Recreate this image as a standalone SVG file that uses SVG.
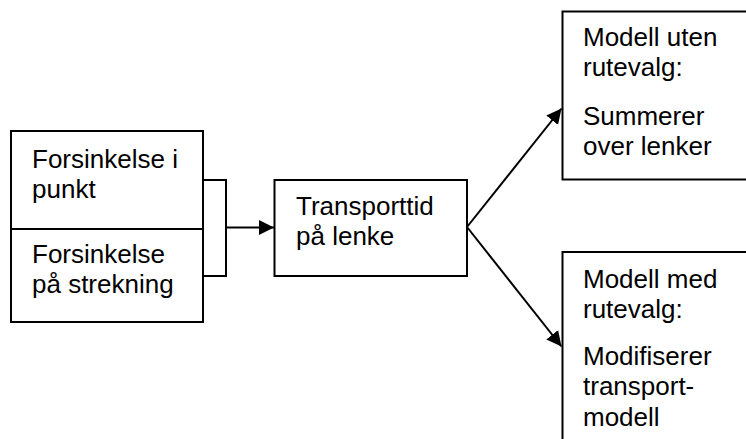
<svg xmlns="http://www.w3.org/2000/svg" width="746" height="439" viewBox="0 0 746 439">
<style>
.box{fill:#fff;stroke:#000;stroke-width:2}
.t{font-family:"Liberation Sans",Arial,sans-serif;font-size:26px;fill:#000}
.c{fill:none;stroke:#000;stroke-width:2}
</style>
<defs>
<marker id="ah" markerUnits="userSpaceOnUse" markerWidth="16" markerHeight="16" viewBox="0 0 16 16" refX="15" refY="8" orient="auto">
<path d="M0,0.5 L15,8 L0,15.5 Z" fill="#000"/>
</marker>
</defs>
<rect width="746" height="439" fill="#fff"/>
<g id="connectors">
<path class="c" d="M203,180 H226 V276 H203"/>
<path class="c" d="M226,227.5 H274" marker-end="url(#ah)"/>
<path class="c" d="M467,227 L561.5,108.5" marker-end="url(#ah)"/>
<path class="c" d="M467,227 L561.5,346.5" marker-end="url(#ah)"/>
</g>
<g id="node-punkt">
<rect class="box" x="11" y="131" width="192" height="98"/>
<text class="t" x="32" y="168">Forsinkelse i</text>
<text class="t" x="32" y="197.5">punkt</text>
</g>
<g id="node-strekning">
<rect class="box" x="11" y="229" width="192" height="93"/>
<text class="t" x="32" y="263">Forsinkelse</text>
<text class="t" x="32" y="292.5">på strekning</text>
</g>
<g id="node-transporttid">
<rect class="box" x="274.5" y="180" width="192.5" height="96"/>
<text class="t" x="296" y="215">Transporttid</text>
<text class="t" x="296" y="245">på lenke</text>
</g>
<g id="node-uten">
<rect class="box" x="562.5" y="11.5" width="200" height="168"/>
<text class="t" x="583" y="46">Modell uten</text>
<text class="t" x="583" y="76">rutevalg:</text>
<text class="t" x="583" y="125">Summerer</text>
<text class="t" x="583" y="155">over lenker</text>
</g>
<g id="node-med">
<rect class="box" x="562.5" y="252" width="200" height="200"/>
<text class="t" x="583" y="287.5">Modell med</text>
<text class="t" x="583" y="318">rutevalg:</text>
<text class="t" x="583" y="365">Modifiserer</text>
<text class="t" x="583" y="395">transport-</text>
<text class="t" x="583" y="426">modell</text>
</g>
</svg>
